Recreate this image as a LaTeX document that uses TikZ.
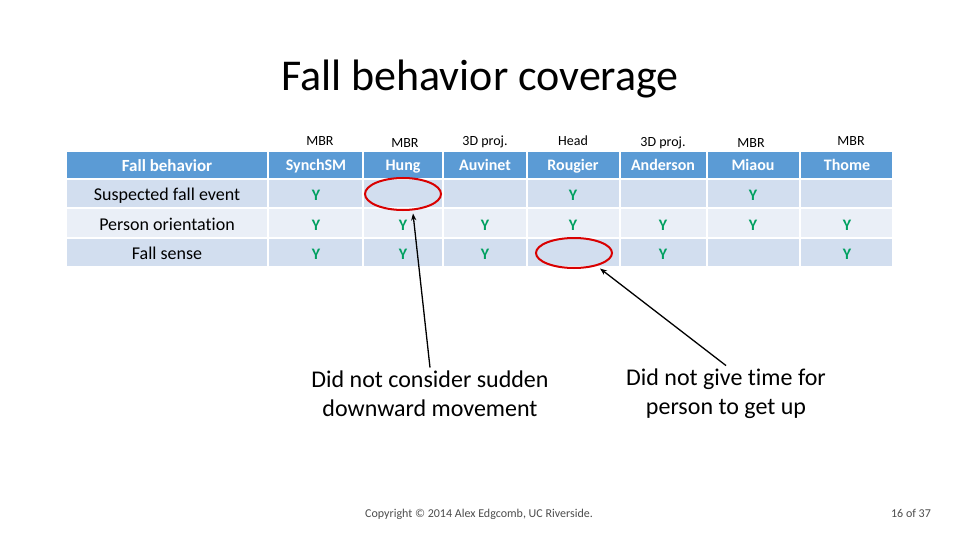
\documentclass[tikz,border=0pt]{standalone}
\usepackage{fontspec}
\usetikzlibrary{arrows.meta}
\setmainfont{Carlito}[RawFeature=-liga]
\definecolor{hdr}{HTML}{5B9BD5}
\definecolor{rowa}{HTML}{D2DEEF}
\definecolor{rowb}{HTML}{EAEFF7}
\definecolor{ygreen}{HTML}{00A060}
\begin{document}
\begin{tikzpicture}[x=1pt,y=-1pt,
  every node/.style={text height=1.5ex,text depth=.3ex,yshift=-3.5pt},
  yy/.style={text=ygreen,font=\fontsize{16}{16}\selectfont\bfseries},
  tt/.style={font=\fontsize{18}{18}\selectfont},
  top/.style={font=\fontsize{14}{14}\selectfont},
  ann/.style={font=\fontsize{24}{29}\selectfont,align=center,text height=,text depth=}]
\useasboundingbox (0,0) rectangle (960,540);
\node[font=\fontsize{44}{44}\selectfont,yshift=-4pt] (title) at (480,80) {Fall behavior coverage};
\foreach \ya/\yb/\c in {151/179/hdr,179/208/rowa,208/238/rowb,238/267/rowa}{
  \foreach \xa/\xb in {66/268,268/363,363/443,443/527,527/620,620/707,707/800,800/893}{
    \fill[\c,draw=white,line width=1.5pt] (\xa,\ya) rectangle (\xb,\yb);}}
\foreach \t/\x/\y [count=\i] in {MBR/320/139,MBR/405/141,3D proj./485/139,Head/573/139,3D proj./663/140,MBR/751/141,MBR/851/139}
  \node[top] (t\i) at (\x,\y) {\t};
\node[text=white,font=\fontsize{17}{17}\selectfont\bfseries] (h0) at (167,165) {Fall behavior};
\foreach \t/\x [count=\i] in {SynchSM/316,Hung/403,Auvinet/485,Rougier/573,Anderson/663,Miaou/753,Thome/847}
  \node[text=white,font=\fontsize{16}{16}\selectfont\bfseries] (h\i) at (\x,164) {\t};
\node[tt] (r1) at (167,194) {Suspected fall event};
\node[tt] (r2) at (167,224) {Person orientation};
\node[tt] (r3) at (167,253) {Fall sense};
\node[yy] (a1) at (316,194) {Y};
\node[yy] (a4) at (573,194) {Y};
\node[yy] (a6) at (753,194) {Y};
\foreach \x [count=\i] in {316,403,485,573,663,753,847} \node[yy] (b\i) at (\x,224) {Y};
\foreach \x/\i in {316/1,403/2,485/3,663/5,847/7} \node[yy] (c\i) at (\x,253) {Y};
\draw[red!85!black,line width=2pt] (403,194) ellipse [x radius=38,y radius=16];
\coordinate (e1) at (413,210);
\draw[red!85!black,line width=2pt] (574,253) ellipse [x radius=38,y radius=15];
\coordinate (e2) at (600,265);
\node[ann] (n1) at (430,390.5) {Did not consider sudden\\downward movement};
\node[ann] (n2) at (726,390.5) {Did not give time for\\person to get up};
\draw[-{Stealth[length=7pt]},line width=1.3pt] (n1.north) -- (e1);
\draw[-{Stealth[length=7pt]},line width=1.3pt] (n2.north) -- (e2);
\node[font=\fontsize{12}{12}\selectfont,text=black!70] (cp) at (479,511.5) {Copyright © 2014 Alex Edgcomb, UC Riverside.};
\node[font=\fontsize{12}{12}\selectfont,text=black!70] (pg) at (911,511.5) {16 of 37};
\end{tikzpicture}
\end{document}
